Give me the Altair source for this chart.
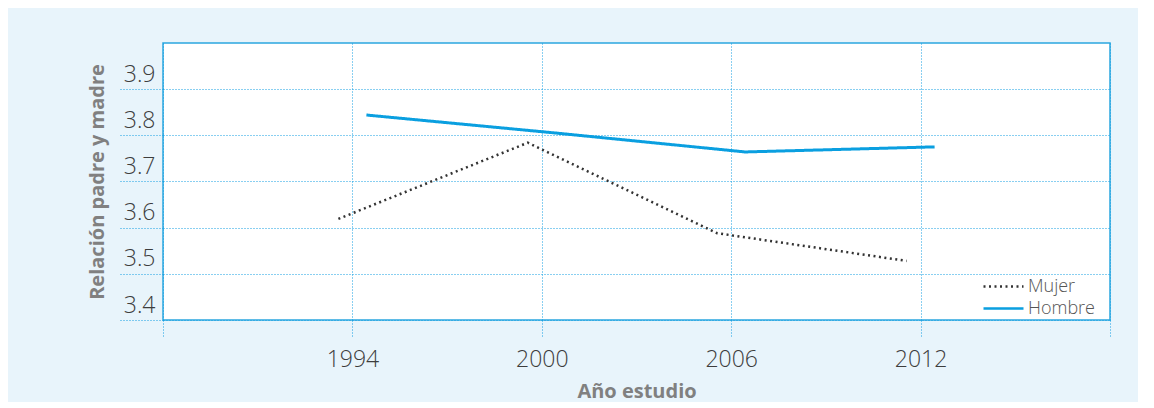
import altair as alt
import pandas as pd

years = [1994, 2000, 2006, 2012]
mujer = [3.619, 3.784, 3.588, 3.528]
hombre = [3.844, 3.805, 3.764, 3.775]
series_names = ["Mujer", "Hombre"]
x_ticks = [1988, 1994, 2000, 2006, 2012, 2018]
y_ticks = [3.4, 3.5, 3.6, 3.7, 3.8, 3.9]

rows = []
for y, m, h in zip(years, mujer, hombre):
    rows.append({"year": y, "serie": "Mujer", "value": m})
    rows.append({"year": y, "serie": "Hombre", "value": h})
df = pd.DataFrame(rows)

BLUE = "#0a9fe0"
GRID = "#129fe2"
FONT = "Open Sans"

x_enc = alt.X(
    "year:Q",
    scale=alt.Scale(domain=[1988, 2018], nice=False, zero=False),
    axis=alt.Axis(
        values=x_ticks,
        format="d",
        labelExpr="datum.value == 1988 || datum.value == 2018 ? '' : datum.label",
        title="Año estudio",
        grid=True,
        gridColor=GRID,
        gridDash=[1, 2],
        gridWidth=1,
        domain=False,
        ticks=True,
        tickSize=18,
        tickColor=GRID,
        tickDash=[1, 2],
        tickWidth=1,
        labelFontSize=23,
        labelFont=FONT,
        labelFontWeight=300,
        labelColor="#3d3d3d",
        labelPadding=10,
        titleFont=FONT,
        titleFontSize=20,
        titleFontWeight="bold",
        titleColor="#808080",
        titlePadding=10,
    ),
)

y_enc = alt.Y(
    "value:Q",
    scale=alt.Scale(domain=[3.4, 4.0], nice=False, zero=False),
    axis=alt.Axis(
        values=y_ticks,
        format=".1f",
        title="Relación padre y madre",
        grid=True,
        gridColor=GRID,
        gridDash=[1, 2],
        gridWidth=1,
        domain=False,
        ticks=True,
        tickSize=45,
        tickColor=GRID,
        tickDash=[1, 2],
        tickWidth=1,
        labelFontSize=23,
        labelFont=FONT,
        labelFontWeight=300,
        labelColor="#3d3d3d",
        labelPadding=-37,
        labelOffset=-15,
        labelBaseline="middle",
        titleFont=FONT,
        titleFontSize=20,
        titleFontWeight="bold",
        titleColor="#808080",
        titlePadding=10,
    ),
)

legend_cfg = dict(
    title=None,
    orient="none",
    legendX=829,
    legendY=232,
    symbolType="M-2,0H2",
    symbolSize=400,
    symbolStrokeWidth=2.5,
    labelFont=FONT,
    labelFontSize=18,
    labelFontWeight=300,
    labelColor="#555555",
    rowPadding=1,
    labelOffset=13,
    padding=0,
)

color_enc = alt.Color(
    "serie:N",
    scale=alt.Scale(domain=series_names, range=["#333333", BLUE]),
    legend=alt.Legend(**legend_cfg),
)
dash_enc = alt.StrokeDash(
    "serie:N",
    scale=alt.Scale(domain=series_names, range=[[2, 3.5], [1, 0]]),
    legend=alt.Legend(**legend_cfg),
)

base = alt.Chart(df)

mujer_line = base.transform_filter(alt.datum.serie == "Mujer").mark_line(
    strokeWidth=2.5, xOffset=-14
).encode(x=x_enc, y=y_enc, color=color_enc, strokeDash=dash_enc)

hombre_line = base.transform_filter(alt.datum.serie == "Hombre").mark_line(
    strokeWidth=3, xOffset=14
).encode(x=x_enc, y=y_enc, color=color_enc, strokeDash=dash_enc)

chart = (
    alt.layer(mujer_line, hombre_line)
    .properties(
        width=947,
        height=277,
        padding={"left": 155, "top": 35, "right": 28, "bottom": 82},
        autosize=alt.AutoSizeParams(type="none"),
        background="#e8f4fb",
    )
    .configure_view(fill="white", stroke="#2ba6e0", strokeWidth=1.5)
)

chart.save("out.html", embed_options={"renderer": "svg", "actions": False})
